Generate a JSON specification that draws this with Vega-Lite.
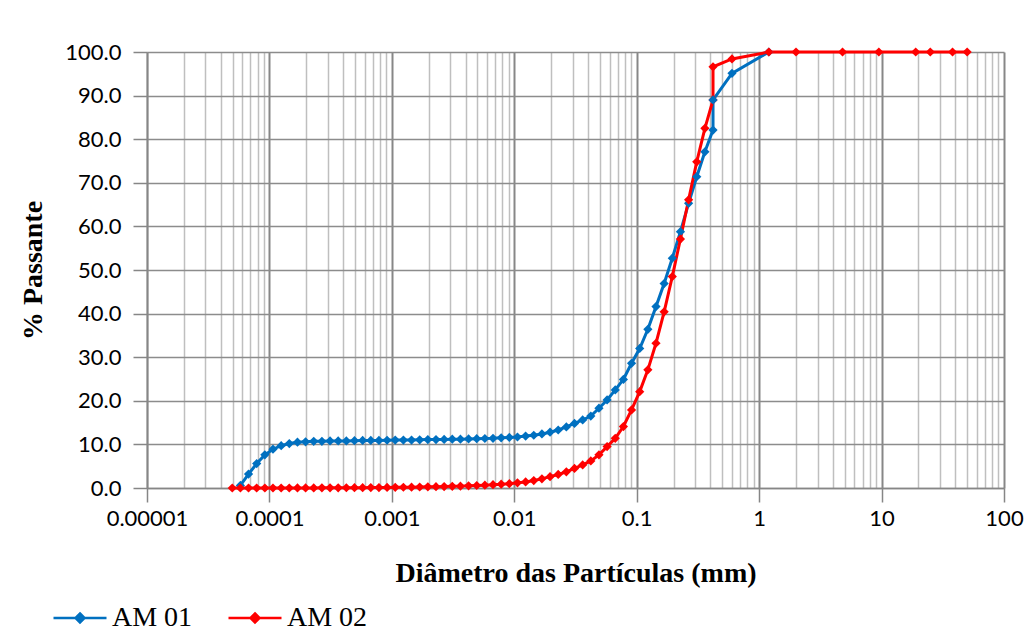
{
  "$schema": "https://vega.github.io/schema/vega-lite/v6.json",
  "width": 857,
  "height": 436,
  "autosize": "none",
  "padding": {"left": 147, "top": 52, "right": 32, "bottom": 149},
  "background": "white",
  "config": {"view": {"stroke": null}},
  "data": {"values": [
    {"s":"AM 01","o":1,"d":5.79e-5,"p":0.6},
    {"s":"AM 01","o":2,"d":6.75e-5,"p":3.2},
    {"s":"AM 01","o":3,"d":7.87e-5,"p":5.6},
    {"s":"AM 01","o":4,"d":9.18e-5,"p":7.6},
    {"s":"AM 01","o":5,"d":1.069e-4,"p":8.9},
    {"s":"AM 01","o":6,"d":1.247e-4,"p":9.7},
    {"s":"AM 01","o":7,"d":1.453e-4,"p":10.2},
    {"s":"AM 01","o":8,"d":1.694e-4,"p":10.5},
    {"s":"AM 01","o":9,"d":1.974e-4,"p":10.6},
    {"s":"AM 01","o":10,"d":2.301e-4,"p":10.7},
    {"s":"AM 01","o":11,"d":2.683e-4,"p":10.7},
    {"s":"AM 01","o":12,"d":3.127e-4,"p":10.8},
    {"s":"AM 01","o":13,"d":3.645e-4,"p":10.8},
    {"s":"AM 01","o":14,"d":4.249e-4,"p":10.8},
    {"s":"AM 01","o":15,"d":4.952e-4,"p":10.85},
    {"s":"AM 01","o":16,"d":5.773e-4,"p":10.9},
    {"s":"AM 01","o":17,"d":6.729e-4,"p":10.9},
    {"s":"AM 01","o":18,"d":7.844e-4,"p":10.9},
    {"s":"AM 01","o":19,"d":9.143e-4,"p":10.95},
    {"s":"AM 01","o":20,"d":1.0656e-3,"p":11.0},
    {"s":"AM 01","o":21,"d":1.2422e-3,"p":11.0},
    {"s":"AM 01","o":22,"d":1.4479e-3,"p":11.0},
    {"s":"AM 01","o":23,"d":1.6878e-3,"p":11.05},
    {"s":"AM 01","o":24,"d":1.9673e-3,"p":11.1},
    {"s":"AM 01","o":25,"d":2.2932e-3,"p":11.1},
    {"s":"AM 01","o":26,"d":2.673e-3,"p":11.15},
    {"s":"AM 01","o":27,"d":3.1157e-3,"p":11.2},
    {"s":"AM 01","o":28,"d":3.6317e-3,"p":11.2},
    {"s":"AM 01","o":29,"d":4.2331e-3,"p":11.25},
    {"s":"AM 01","o":30,"d":4.934e-3,"p":11.3},
    {"s":"AM 01","o":31,"d":5.752e-3,"p":11.35},
    {"s":"AM 01","o":32,"d":6.704e-3,"p":11.4},
    {"s":"AM 01","o":33,"d":7.815e-3,"p":11.5},
    {"s":"AM 01","o":34,"d":9.109e-3,"p":11.6},
    {"s":"AM 01","o":35,"d":1.0617e-2,"p":11.7},
    {"s":"AM 01","o":36,"d":1.2376e-2,"p":11.9},
    {"s":"AM 01","o":37,"d":1.4425e-2,"p":12.1},
    {"s":"AM 01","o":38,"d":1.6814e-2,"p":12.4},
    {"s":"AM 01","o":39,"d":1.9598e-2,"p":12.8},
    {"s":"AM 01","o":40,"d":2.2844e-2,"p":13.3},
    {"s":"AM 01","o":41,"d":2.6628e-2,"p":14.0},
    {"s":"AM 01","o":42,"d":3.1037e-2,"p":14.8},
    {"s":"AM 01","o":43,"d":3.6178e-2,"p":15.6},
    {"s":"AM 01","o":44,"d":4.217e-2,"p":16.5},
    {"s":"AM 01","o":45,"d":4.9153e-2,"p":18.3},
    {"s":"AM 01","o":46,"d":5.7295e-2,"p":20.2},
    {"s":"AM 01","o":47,"d":6.678e-2,"p":22.5},
    {"s":"AM 01","o":48,"d":7.784e-2,"p":24.9},
    {"s":"AM 01","o":49,"d":9.073e-2,"p":28.6},
    {"s":"AM 01","o":50,"d":0.10578,"p":32.0},
    {"s":"AM 01","o":51,"d":0.12331,"p":36.4},
    {"s":"AM 01","o":52,"d":0.14369,"p":41.6},
    {"s":"AM 01","o":53,"d":0.1675,"p":46.9},
    {"s":"AM 01","o":54,"d":0.19524,"p":52.7},
    {"s":"AM 01","o":55,"d":0.22757,"p":58.8},
    {"s":"AM 01","o":56,"d":0.26528,"p":65.3},
    {"s":"AM 01","o":57,"d":0.30925,"p":71.4},
    {"s":"AM 01","o":58,"d":0.36048,"p":77.1},
    {"s":"AM 01","o":59,"d":0.4201,"p":82.1},
    {"s":"AM 01","o":60,"d":0.42,"p":89.0},
    {"s":"AM 01","o":61,"d":0.6,"p":95.1},
    {"s":"AM 01","o":62,"d":1.2,"p":100},
    {"s":"AM 02","o":0,"d":4.97e-5,"p":0.0},
    {"s":"AM 02","o":1,"d":5.79e-5,"p":0.0},
    {"s":"AM 02","o":2,"d":6.75e-5,"p":0.0},
    {"s":"AM 02","o":3,"d":7.87e-5,"p":0.0},
    {"s":"AM 02","o":4,"d":9.18e-5,"p":0.0},
    {"s":"AM 02","o":5,"d":1.069e-4,"p":0.0},
    {"s":"AM 02","o":6,"d":1.247e-4,"p":0.0},
    {"s":"AM 02","o":7,"d":1.453e-4,"p":0.0},
    {"s":"AM 02","o":8,"d":1.694e-4,"p":0.01},
    {"s":"AM 02","o":9,"d":1.974e-4,"p":0.01},
    {"s":"AM 02","o":10,"d":2.301e-4,"p":0.02},
    {"s":"AM 02","o":11,"d":2.683e-4,"p":0.03},
    {"s":"AM 02","o":12,"d":3.127e-4,"p":0.04},
    {"s":"AM 02","o":13,"d":3.645e-4,"p":0.05},
    {"s":"AM 02","o":14,"d":4.249e-4,"p":0.06},
    {"s":"AM 02","o":15,"d":4.952e-4,"p":0.07},
    {"s":"AM 02","o":16,"d":5.773e-4,"p":0.08},
    {"s":"AM 02","o":17,"d":6.729e-4,"p":0.1},
    {"s":"AM 02","o":18,"d":7.844e-4,"p":0.11},
    {"s":"AM 02","o":19,"d":9.143e-4,"p":0.13},
    {"s":"AM 02","o":20,"d":1.0656e-3,"p":0.15},
    {"s":"AM 02","o":21,"d":1.2422e-3,"p":0.17},
    {"s":"AM 02","o":22,"d":1.4479e-3,"p":0.2},
    {"s":"AM 02","o":23,"d":1.6878e-3,"p":0.23},
    {"s":"AM 02","o":24,"d":1.9673e-3,"p":0.26},
    {"s":"AM 02","o":25,"d":2.2932e-3,"p":0.3},
    {"s":"AM 02","o":26,"d":2.673e-3,"p":0.34},
    {"s":"AM 02","o":27,"d":3.1157e-3,"p":0.38},
    {"s":"AM 02","o":28,"d":3.6317e-3,"p":0.43},
    {"s":"AM 02","o":29,"d":4.2331e-3,"p":0.5},
    {"s":"AM 02","o":30,"d":4.934e-3,"p":0.57},
    {"s":"AM 02","o":31,"d":5.752e-3,"p":0.65},
    {"s":"AM 02","o":32,"d":6.704e-3,"p":0.75},
    {"s":"AM 02","o":33,"d":7.815e-3,"p":0.87},
    {"s":"AM 02","o":34,"d":9.109e-3,"p":1.0},
    {"s":"AM 02","o":35,"d":1.0617e-2,"p":1.2},
    {"s":"AM 02","o":36,"d":1.2376e-2,"p":1.4},
    {"s":"AM 02","o":37,"d":1.4425e-2,"p":1.7},
    {"s":"AM 02","o":38,"d":1.6814e-2,"p":2.1},
    {"s":"AM 02","o":39,"d":1.9598e-2,"p":2.6},
    {"s":"AM 02","o":40,"d":2.2844e-2,"p":3.1},
    {"s":"AM 02","o":41,"d":2.6628e-2,"p":3.7},
    {"s":"AM 02","o":42,"d":3.1037e-2,"p":4.5},
    {"s":"AM 02","o":43,"d":3.6178e-2,"p":5.3},
    {"s":"AM 02","o":44,"d":4.217e-2,"p":6.2},
    {"s":"AM 02","o":45,"d":4.9153e-2,"p":7.6},
    {"s":"AM 02","o":46,"d":5.7295e-2,"p":9.5},
    {"s":"AM 02","o":47,"d":6.678e-2,"p":11.4},
    {"s":"AM 02","o":48,"d":7.784e-2,"p":14.1},
    {"s":"AM 02","o":49,"d":9.073e-2,"p":17.9},
    {"s":"AM 02","o":50,"d":0.10578,"p":22.1},
    {"s":"AM 02","o":51,"d":0.12331,"p":27.1},
    {"s":"AM 02","o":52,"d":0.14369,"p":33.2},
    {"s":"AM 02","o":53,"d":0.1675,"p":40.4},
    {"s":"AM 02","o":54,"d":0.19524,"p":48.5},
    {"s":"AM 02","o":55,"d":0.22757,"p":57.1},
    {"s":"AM 02","o":56,"d":0.26528,"p":66.1},
    {"s":"AM 02","o":57,"d":0.30925,"p":74.8},
    {"s":"AM 02","o":58,"d":0.36048,"p":82.5},
    {"s":"AM 02","o":59,"d":0.4201,"p":89.0},
    {"s":"AM 02","o":60,"d":0.42,"p":96.6},
    {"s":"AM 02","o":61,"d":0.6,"p":98.4},
    {"s":"AM 02","o":62,"d":1.2,"p":100},
    {"s":"AM 02","o":63,"d":2.0,"p":100},
    {"s":"AM 02","o":64,"d":4.8,"p":100},
    {"s":"AM 02","o":65,"d":9.5,"p":100},
    {"s":"AM 02","o":66,"d":19,"p":100},
    {"s":"AM 02","o":67,"d":25,"p":100},
    {"s":"AM 02","o":68,"d":38,"p":100},
    {"s":"AM 02","o":69,"d":50,"p":100}
  ]},
  "mark": {"type": "line", "strokeWidth": 3, "point": {"shape": "diamond", "size": 85, "filled": true}},
  "encoding": {
    "x": {
      "field": "d", "type": "quantitative",
      "scale": {"type": "log", "domain": [0.00001, 100], "nice": false},
      "axis": {
        "title": "Diâmetro das Partículas (mm)",
        "titleFont": "Liberation Serif", "titleFontSize": 28, "titleFontWeight": "bold", "titleColor": "black", "titlePadding": 30,
        "values": [0.00001,0.00002,0.00003,0.00004,0.00005,0.00006,0.00007,0.00008,0.00009,
                   0.0001,0.0002,0.0003,0.0004,0.0005,0.0006,0.0007,0.0008,0.0009,
                   0.001,0.002,0.003,0.004,0.005,0.006,0.007,0.008,0.009,
                   0.01,0.02,0.03,0.04,0.05,0.06,0.07,0.08,0.09,
                   0.1,0.2,0.3,0.4,0.5,0.6,0.7,0.8,0.9,
                   1,2,3,4,5,6,7,8,9,
                   10,20,30,40,50,60,70,80,90,100],
        "labelExpr": "abs(log(datum.value)/LN10 - round(log(datum.value)/LN10)) < 0.000001 ? format(datum.value, '~f') : ''",
        "labelOverlap": false, "labelFlush": false, "labelBound": false,
        "labelFont": "Lato", "labelFontSize": 22, "labelColor": "black", "labelPadding": 6,
        "tickSize": 14, "tickColor": "#868686", "tickWidth": 1.5,
        "tickOpacity": {"condition": {"test": "abs(log(datum.value)/LN10 - round(log(datum.value)/LN10)) < 0.000001", "value": 1}, "value": 0},
        "domainColor": "#868686", "domainWidth": 1.5,
        "grid": true,
        "gridColor": {"condition": {"test": "abs(log(datum.value)/LN10 - round(log(datum.value)/LN10)) < 0.000001", "value": "#878787"}, "value": "#bfbfbf"},
        "gridWidth": {"condition": {"test": "abs(log(datum.value)/LN10 - round(log(datum.value)/LN10)) < 0.000001", "value": 2}, "value": 1.5},
        "gridOpacity": 1
      }
    },
    "y": {
      "field": "p", "type": "quantitative",
      "scale": {"domain": [0, 100], "nice": false},
      "axis": {
        "title": "% Passante",
        "titleFont": "Liberation Serif", "titleFontSize": 28, "titleFontWeight": "bold", "titleColor": "black", "titlePadding": 17,
        "values": [0,10,20,30,40,50,60,70,80,90,100],
        "format": ".1f",
        "labelFont": "Lato", "labelFontSize": 22, "labelColor": "black", "labelPadding": 12,
        "tickSize": 14, "tickColor": "#868686", "tickWidth": 1.5,
        "domainColor": "#868686", "domainWidth": 1.5,
        "grid": true, "gridColor": "#8c8c8c", "gridWidth": 1.5, "gridOpacity": 1
      }
    },
    "color": {
      "field": "s", "type": "nominal",
      "scale": {"domain": ["AM 01", "AM 02"], "range": ["#0070C0", "#FF0000"]},
      "legend": {
        "title": null, "orient": "none", "legendX": -95, "legendY": 538, "direction": "horizontal",
        "labelFont": "Liberation Serif", "labelFontSize": 28, "labelColor": "black",
        "symbolType": "M-1,0L1,0M0,-0.17L0.17,0L0,0.17L-0.17,0Z",
        "symbolSize": 2809, "symbolStrokeWidth": 2.5, "labelOffset": 4, "columnPadding": 30,
        "encode": {"symbols": {"update": {"fill": {"scale": "color", "field": "value"}, "fillOpacity": {"value": 1}}}}
      }
    },
    "order": {"field": "o", "type": "quantitative"}
  }
}
